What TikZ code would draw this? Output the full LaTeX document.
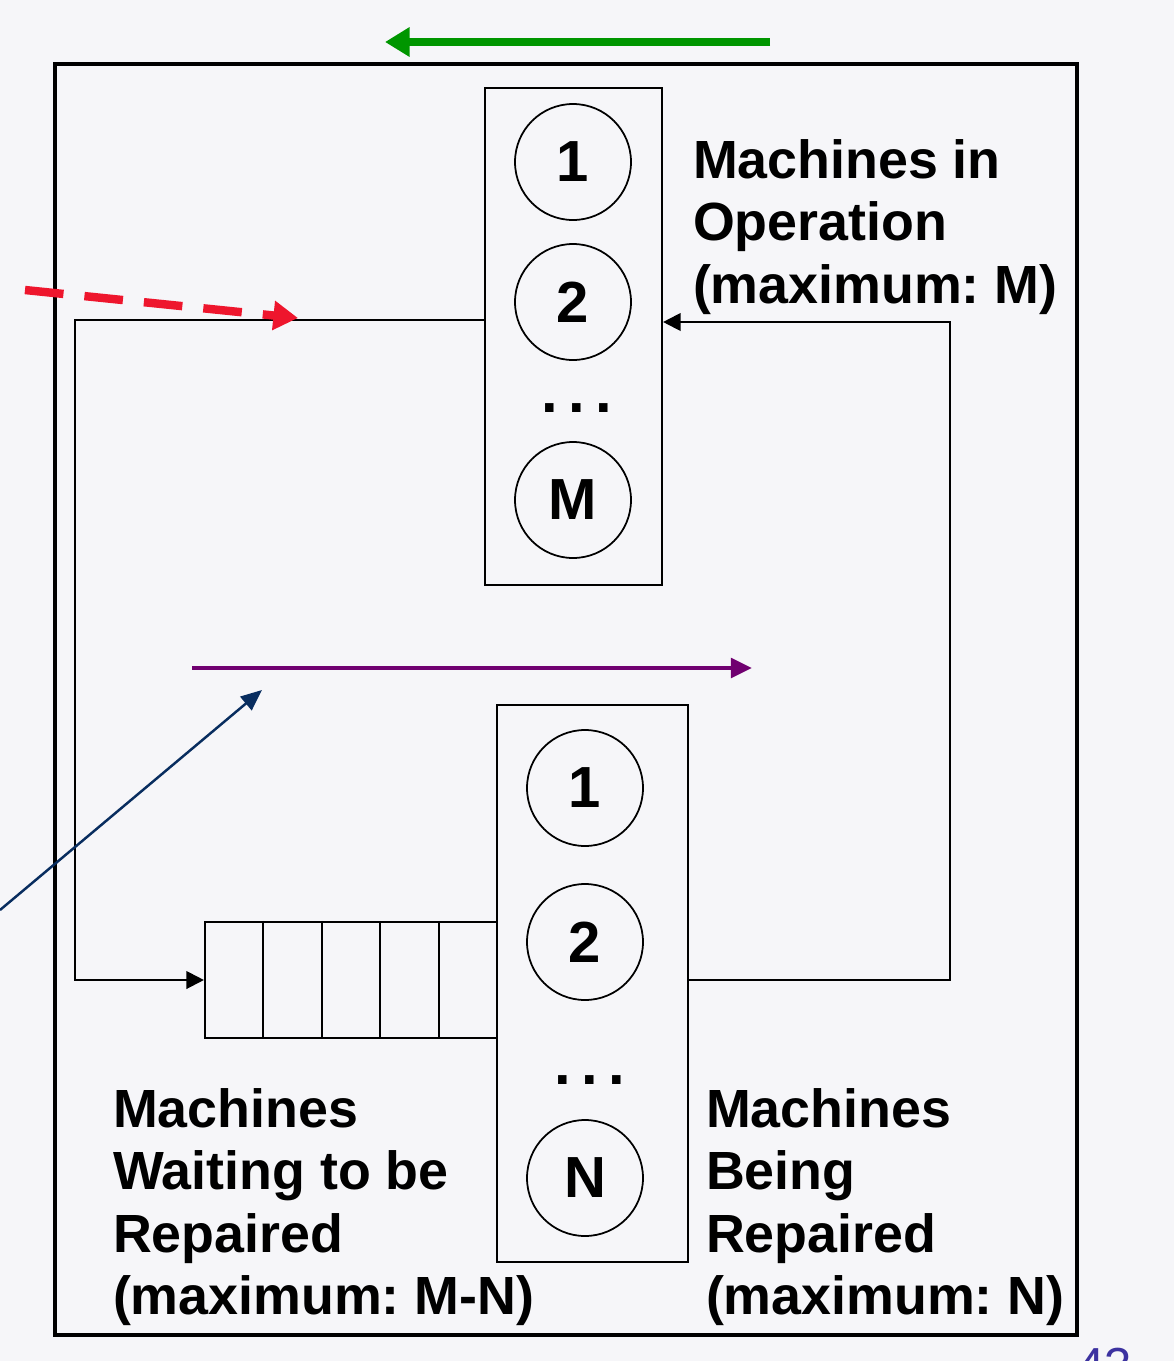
\documentclass[tikz,border=0pt]{standalone}
\usepackage{fontspec}
\setmainfont{Liberation Sans}
\usetikzlibrary{arrows.meta,positioning,calc}
\definecolor{paper}{RGB}{246,246,249}
\definecolor{grass}{RGB}{0,150,0}
\definecolor{signal}{RGB}{238,22,45}
\definecolor{plum}{RGB}{112,0,112}
\definecolor{navy}{RGB}{8,45,95}
\definecolor{slideno}{RGB}{60,50,160}
\frenchspacing

\begin{document}
\begin{tikzpicture}[x=0.1mm, y=-0.1mm, >={Triangle[length=5pt,width=5pt]}, line width=0.6pt, font=\bfseries]
	\tikzset{
		machine/.style={circle, draw, line width=0.5pt, minimum size=11.6mm, inner sep=0pt, font=\fontsize{16.5}{20}\selectfont\bfseries},
		stage/.style={draw, inner sep=0pt},
		dots/.style={inner sep=0pt, font=\fontsize{17}{20}\selectfont\bfseries},
		caption/.style={anchor=north west, align=left, inner sep=0pt, font=\fontsize{15.3}{17.8}\selectfont\bfseries},
		note/.style={line width=#1, -{Triangle[length=7pt,width=8pt]}},
	}

	% page
	\fill[paper] (0,0) rectangle (1174,1361);
	\useasboundingbox (0,0) rectangle (1174,1361);

	\draw[line width=0.9pt] (55,64) rectangle (1077,1335);

	% machines in operation
	\node[stage, minimum width=17.7mm, minimum height=49.7mm] (opbox) at (573.5,336.5) {};
	\node[machine] (op1) at (573,162) {1};
	\node[machine] (op2) at (573,302) {2};
	\node[dots, anchor=base] (opdots) at (577,412) {.\hspace{3pt}.\hspace{3pt}.};
	\node[machine] (opM) at (573,500) {M};

	% machines being repaired
	\node[stage, minimum width=19.1mm, minimum height=55.7mm] (repbox) at (592.5,983.5) {};
	\node[machine] (rep1) at (585,788) {1};
	\node[machine] (rep2) at (585,942) {2};
	\node[dots, anchor=base] (repdots) at (590,1084) {.\hspace{3pt}.\hspace{3pt}.};
	\node[machine] (repN) at (585,1178) {N};

	% waiting line
	\node[stage, minimum width=29.2mm, minimum height=11.6mm] (queue) at (351,980) {};
	\foreach \i in {1,...,4}
		\draw ($(queue.north west)!\i/5!(queue.north east)$) -- ($(queue.south west)!\i/5!(queue.south east)$);

	% breakdowns and repaired machines
	\coordinate (downL) at (75,320);
	\coordinate (backR) at (950,322);
	\draw[->] (opbox.west |- downL) -- (downL) |- (queue.west);
	\draw[->] (repbox.east |- queue.east) -| (backR) -- (opbox.east |- backR);

	\node[caption] (opcap) at (692,138) {Machines in\\Operation\\(maximum: M)};
	\node[caption] (waitcap) at (112,1087) {Machines\\Waiting to be\\Repaired\\(maximum: M-N)};
	\node[caption] (repcap) at (705,1087) {Machines\\Being\\Repaired\\(maximum: N)};

	% annotations
	\coordinate (gA) at (770,42);
	\coordinate (gB) at (385,42);
	\draw[grass, note=2.4pt] (gA) -- (gB);

	\coordinate (rA) at (25,290);
	\coordinate (rB) at (298,318);
	\draw[signal, note=2.4pt, dash pattern=on 11pt off 6pt] (rA) -- (rB);

	\coordinate (pA) at (192,668);
	\coordinate (pB) at (752,668);
	\draw[plum, line width=1.2pt, -{Triangle[length=6pt,width=5.5pt]}] (pA) -- (pB);

	\coordinate (nA) at (0,910);
	\coordinate (nB) at (262,690);
	\draw[navy, line width=0.7pt, -{Triangle[length=6pt,width=5pt]}] (nA) -- (nB);

	\node[anchor=north west, inner sep=0pt, text=slideno, font=\fontsize{14}{16}\selectfont\mdseries] (pageno) at (1076,1347) {43};
\end{tikzpicture}
\end{document}
